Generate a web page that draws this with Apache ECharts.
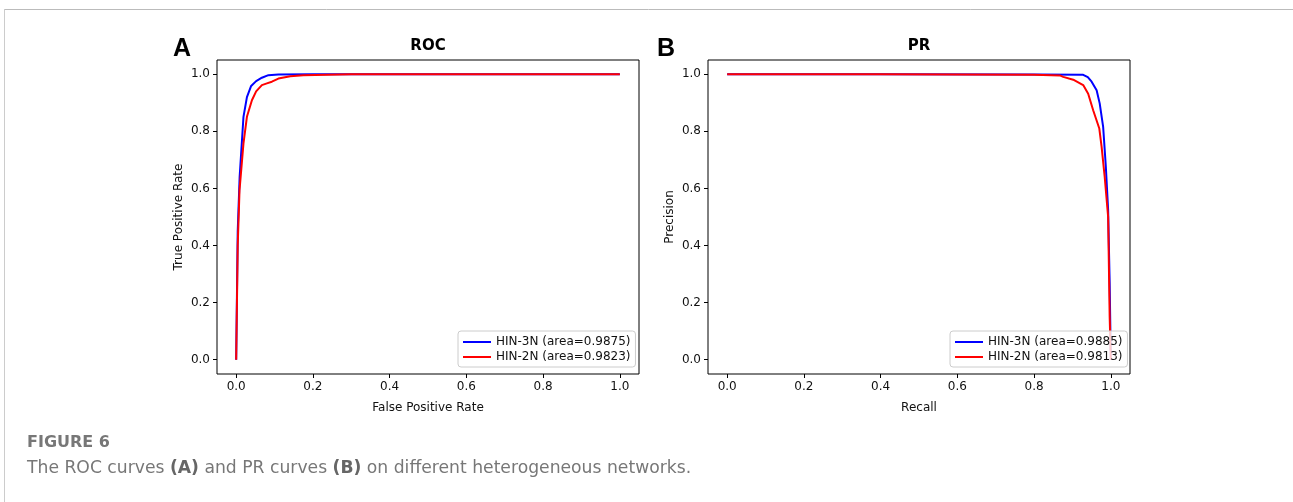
<!DOCTYPE html>
<html><head><meta charset="utf-8">
<script src="https://cdn.jsdelivr.net/npm/echarts@6/dist/echarts.min.js"></script>
<style>html,body{margin:0;padding:0;background:#fff}#c{width:1293px;height:502px}</style>
</head><body><div id="c"></div>
<script>
const ticks = [0, 0.2, 0.4, 0.6, 0.8, 1.0];
const rocNames = ['HIN-3N (area=0.9875)', 'HIN-2N (area=0.9823)'];
const prNames = ['HIN-3N (area=0.9885)', 'HIN-2N (area=0.9813)'];
// ROC: [FPR, TPR]
const roc3N = [[0,0],[0.004,0.45],[0.009,0.64],[0.019,0.851],[0.028,0.92],[0.039,0.959],[0.052,0.976],[0.067,0.988],[0.084,0.997],[0.11,0.999],[0.2,1.0],[0.4,1.0],[0.6,1.0],[0.8,1.0],[1.0,1.0]];
const roc2N = [[0,0],[0.004,0.4],[0.0087,0.594],[0.019,0.758],[0.028,0.851],[0.041,0.909],[0.052,0.94],[0.067,0.962],[0.08,0.968],[0.093,0.974],[0.11,0.985],[0.141,0.993],[0.175,0.997],[0.3,1.0],[0.5,1.0],[0.8,1.0],[1.0,1.0]];
// PR: [Recall, Precision]
const pr3N = [[0,1.0],[0.4,1.0],[0.8,0.999],[0.928,0.998],[0.94,0.99],[0.95,0.974],[0.963,0.944],[0.971,0.898],[0.98,0.816],[0.987,0.676],[0.993,0.524],[0.997,0.269],[1.0,0.0]];
const pr2N = [[0,1.0],[0.4,1.0],[0.8,0.998],[0.867,0.996],[0.876,0.991],[0.902,0.981],[0.928,0.962],[0.941,0.932],[0.954,0.874],[0.970,0.810],[0.976,0.746],[0.984,0.641],[0.993,0.501],[0.997,0.151],[1.0,0.0]];

const chart = echarts.init(document.getElementById('c'));
const FONT = 'DejaVu Sans';
function xAx(gi, name) {
  return {
    type: 'value', gridIndex: gi, min: -0.05, max: 1.05, position: 'bottom',
    name: name, nameLocation: 'middle', nameGap: 28,
    nameTextStyle: { fontFamily: FONT, fontSize: 12, color: '#111' },
    axisLine: { show: false, onZero: false }, splitLine: { show: false },
    axisTick: { show: true, customValues: ticks, length: 4, inside: false, lineStyle: { color: '#000' } },
    axisLabel: { customValues: ticks, formatter: v => v.toFixed(1), fontFamily: FONT, fontSize: 12, color: '#111', margin: 7 }
  };
}
function yAx(gi, name) {
  return {
    type: 'value', gridIndex: gi, min: -0.05, max: 1.05, position: 'left',
    name: name, nameLocation: 'middle', nameGap: 32,
    nameTextStyle: { fontFamily: FONT, fontSize: 12, color: '#111' },
    axisLine: { show: false, onZero: false }, splitLine: { show: false },
    axisTick: { show: true, customValues: ticks, length: 4, inside: false, lineStyle: { color: '#000' } },
    axisLabel: { customValues: ticks, formatter: v => v.toFixed(1), fontFamily: FONT, fontSize: 12, color: '#111', margin: 7 }
  };
}
function ser(name, data, color, gi) {
  return { type: 'line', name: name, data: data, xAxisIndex: gi, yAxisIndex: gi,
    symbol: 'none', smooth: false, clip: true, lineStyle: { color: color, width: 2 }, itemStyle: { color: color } };
}
function leg(names, left) {
  return {
    data: names, orient: 'vertical', left: left, top: 331,
    icon: 'rect', itemWidth: 28, itemHeight: 2, itemGap: 3,
    padding: [5, 5, 4, 5], borderColor: '#ccc', borderWidth: 1, borderRadius: 3,
    backgroundColor: 'rgba(255,255,255,0.8)',
    textStyle: { fontFamily: FONT, fontSize: 12, color: '#111' }, selectedMode: false
  };
}
function txt(x, y, text, size, weight, color, family, align) {
  return { type: 'text', x: x, y: y, z: 100, style: { text: text, fontSize: size, fontWeight: weight, fill: color, fontFamily: family || FONT, textAlign: align || 'center', textVerticalAlign: 'middle' } };
}
const option = {
  animation: false,
  backgroundColor: '#fff',
  grid: [
    { left: 217, top: 60, width: 422, height: 314, show: true, borderColor: '#000', borderWidth: 1, backgroundColor: 'transparent', containLabel: false, outerBoundsMode: 'none' },
    { left: 708, top: 60, width: 422, height: 314, show: true, borderColor: '#000', borderWidth: 1, backgroundColor: 'transparent', containLabel: false, outerBoundsMode: 'none' }
  ],
  xAxis: [xAx(0, 'False Positive Rate'), xAx(1, 'Recall')],
  yAxis: [yAx(0, 'True Positive Rate'), yAx(1, 'Precision')],
  legend: [leg(rocNames, 458), leg(prNames, 950)],
  series: [
    ser(rocNames[0], roc3N, '#0000ff', 0),
    ser(rocNames[1], roc2N, '#ff0000', 0),
    ser(prNames[0], pr3N, '#0000ff', 1),
    ser(prNames[1], pr2N, '#ff0000', 1)
  ],
  graphic: [
    { type: 'line', shape: { x1: 4, y1: 9.5, x2: 1293, y2: 9.5 }, style: { stroke: '#bbb', lineWidth: 1 } },
    { type: 'line', shape: { x1: 4.5, y1: 9, x2: 4.5, y2: 502 }, style: { stroke: '#ccc', lineWidth: 1 } },
    txt(182, 49, 'A', 25, 'bold', '#000', 'Liberation Sans'),
    txt(666, 49, 'B', 25, 'bold', '#000', 'Liberation Sans'),
    txt(428, 46, 'ROC', 15, 'bold', '#000'),
    txt(919, 46, 'PR', 15, 'bold', '#000'),
    txt(27, 443, 'FIGURE 6', 16, 'bold', '#777', FONT, 'left'),
    { type: 'text', x: 27, y: 469, z: 100, style: {
        text: 'The ROC curves {b|(A)} and PR curves {b|(B)} on different heterogeneous networks.',
        fontSize: 17.2, fill: '#777', fontFamily: FONT, textAlign: 'left', textVerticalAlign: 'middle',
        rich: { b: { fontWeight: 'bold', fontSize: 17.2, fill: '#666', fontFamily: FONT } } } }
  ]
};
chart.setOption(option);
</script></body></html>
